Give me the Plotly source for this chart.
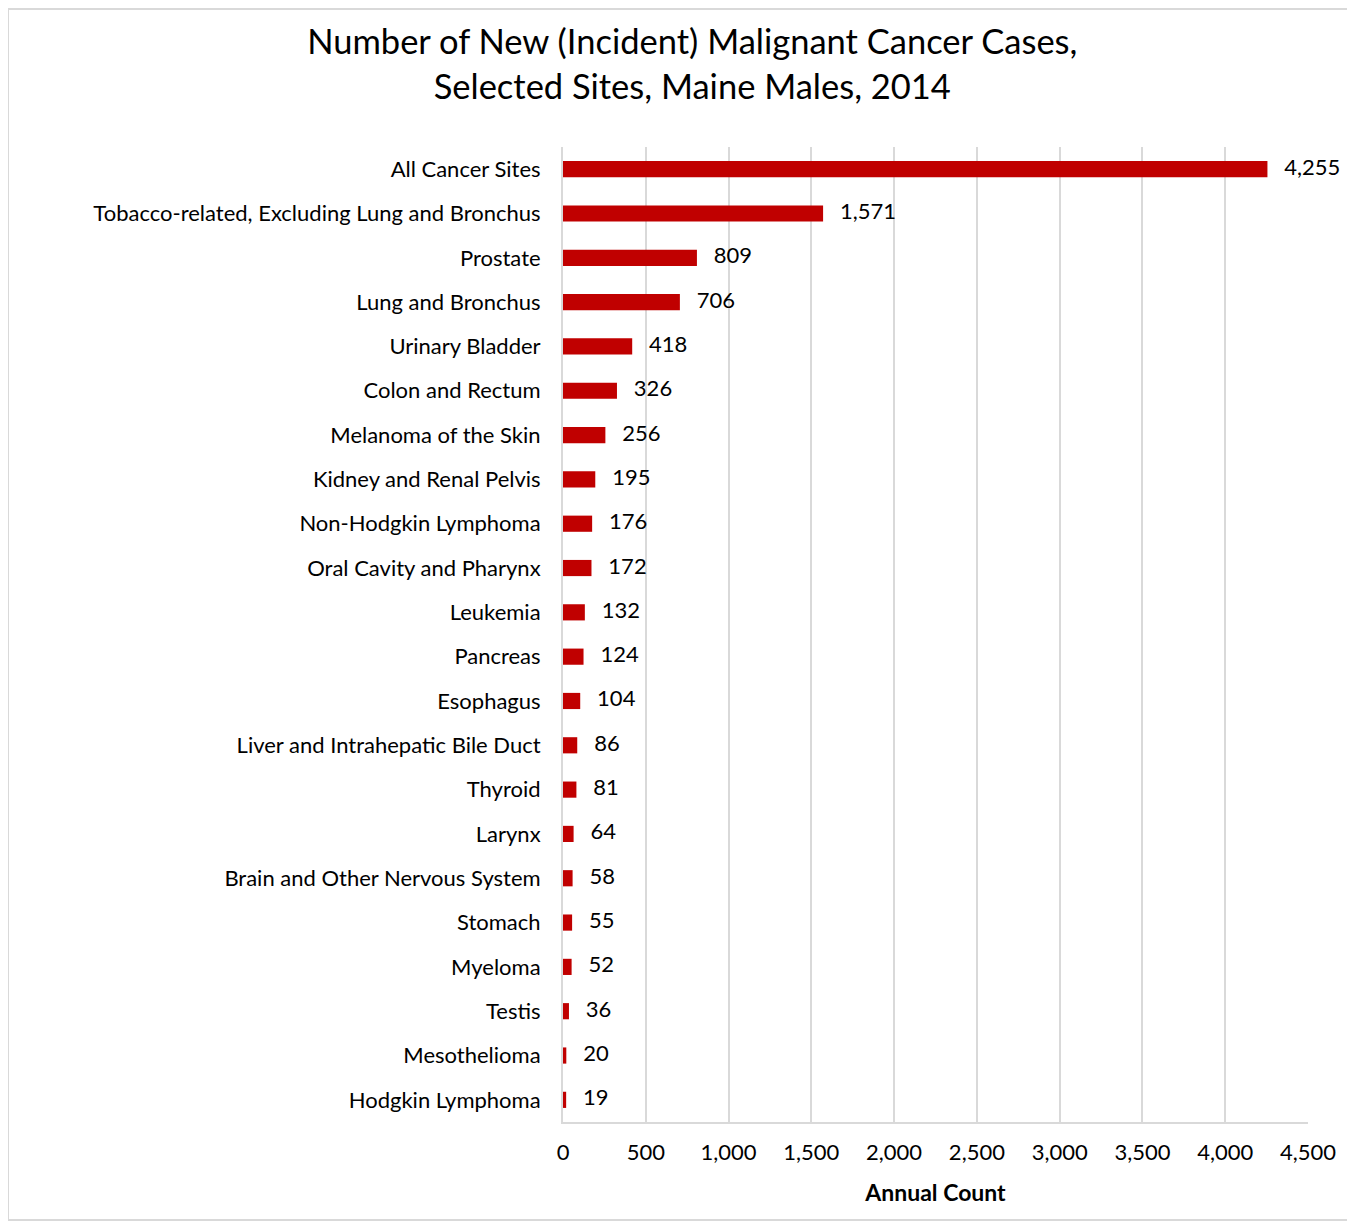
import plotly.graph_objects as go

sites = ["All Cancer Sites", "Tobacco-related, Excluding Lung and Bronchus", "Prostate",
         "Lung and Bronchus", "Urinary Bladder", "Colon and Rectum", "Melanoma of the Skin",
         "Kidney and Renal Pelvis", "Non-Hodgkin Lymphoma", "Oral Cavity and Pharynx",
         "Leukemia", "Pancreas", "Esophagus", "Liver and Intrahepatic Bile Duct", "Thyroid",
         "Larynx", "Brain and Other Nervous System", "Stomach", "Myeloma", "Testis",
         "Mesothelioma", "Hodgkin Lymphoma"]
counts = [4255, 1571, 809, 706, 418, 326, 256, 195, 176, 172, 132, 124, 104, 86, 81,
          64, 58, 55, 52, 36, 20, 19]

FONT = "Lato"

fig = go.Figure()
fig.add_trace(go.Bar(
    y=sites, x=counts, orientation="h",
    marker=dict(color="#C00000", line=dict(width=0)),
    hoverinfo="x+y",
))
fig.add_trace(go.Scatter(
    y=sites, x=counts, mode="text",
    text=["   " + f"{v:,}" for v in counts], textposition="middle right",
    textfont=dict(family=FONT, size=22, color="#000000"),
    cliponaxis=False, hoverinfo="skip",
))

fig.update_layout(
    width=1347, height=1214,
    paper_bgcolor="white", plot_bgcolor="white",
    margin=dict(l=555, r=47, t=139, b=100),
    bargap=0.635,
    showlegend=False,
    title=dict(text="Number of New (Incident) Malignant Cancer Cases,<br>Selected Sites, Maine Males, 2014",
               x=0.508, xanchor="center", y=0.962, yanchor="top",
               font=dict(family=FONT, size=34.5, color="#000000")),
    font=dict(family=FONT, color="#000000"),
    xaxis=dict(range=[0, 4500], dtick=500, tickformat=",", showgrid=True,
               gridcolor="#D9D9D9", gridwidth=2, zeroline=False,
               showline=True, linecolor="#D9D9D9", linewidth=2,
               tickfont=dict(family=FONT, size=22, color="#000000"),
               ticks="outside", ticklen=10, tickcolor="rgba(0,0,0,0)",
               title=dict(text="<b>Annual Count</b>", font=dict(family=FONT, size=23, color="#000000"),
                          standoff=20)),
    yaxis=dict(range=[len(sites) - 0.5, -0.5], showline=True, linecolor="#D9D9D9", linewidth=2,
               tickfont=dict(family=FONT, size=22, color="#000000"), ticks="outside",
               ticklen=16, tickcolor="rgba(0,0,0,0)", showgrid=False),
    shapes=[dict(type="rect", xref="paper", yref="paper",
                 x0=(8 - 563) / 745, x1=(1352 - 563) / 745,
                 y0=(1122 - 1220) / 975, y1=(1122 - 9) / 975,
                 line=dict(color="#D9D9D9", width=2), fillcolor="rgba(0,0,0,0)", layer="below")],
)

fig.write_html("out.html")
